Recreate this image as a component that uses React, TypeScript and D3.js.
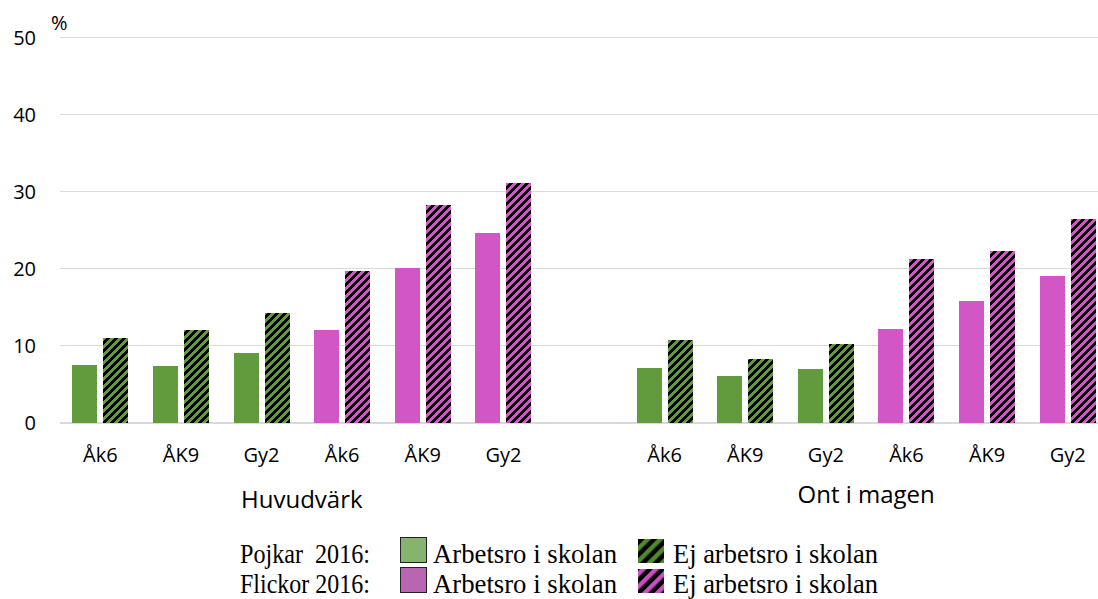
import React from "react";
import * as d3 from "d3";

const groups = ["Huvudvärk", "Ont i magen"];
const grades = ["Åk6", "ÅK9", "Gy2"];
const sexes = ["Pojkar", "Flickor"];
// values per group, sex × grade
const arbetsro = [
  [7.5, 7.3, 9.0, 12.0, 20.1, 24.6],
  [7.1, 6.0, 6.9, 12.2, 15.8, 19.0],
];
const ejArbetsro = [
  [11.0, 12.0, 14.2, 19.7, 28.3, 31.1],
  [10.7, 8.3, 10.2, 21.2, 22.3, 26.4],
];
const yTicks = [0, 10, 20, 30, 40, 50];
const legendRows = ["Pojkar  2016:", "Flickor 2016:"];
const legendItems = ["Arbetsro i skolan", "Ej arbetsro i skolan"];

const W = 1098;
const H = 599;
const GREEN = "#629b3d";
const PINK = "#d256c6";

export default function App() {
  const slots: { key: string; label: string; group: number; idx: number }[] = [];
  const domain: string[] = [];
  groups.forEach((g, gi) => {
    sexes.forEach((s, si) => {
      grades.forEach((gr, ri) => {
        const k = `${gi}-${si}-${ri}`;
        slots.push({ key: k, label: gr, group: gi, idx: si * 3 + ri });
        domain.push(k);
      });
    });
    if (gi === 0) domain.push("gap");
  });

  const x = d3.scaleBand<string>().domain(domain).range([60, 1108]).paddingInner(0).paddingOuter(0);
  const y = d3.scaleLinear().domain([0, 50]).range([422.5, 37.5]);
  const bw = 25;
  const gapBars = 6;

  const pix = (color: string, id: string) => {
    const rects: JSX.Element[] = [];
    for (let py = 0; py < 8; py++)
      for (let px = 0; px < 8; px++)
        if ((px + py) % 8 < 4) rects.push(<rect key={`${px}-${py}`} x={px} y={py} width={1} height={1} fill={color} />);
    return (
      <pattern id={id} patternUnits="userSpaceOnUse" width={8} height={8} x={0} y={0}>
        <rect width={8} height={8} fill="#000" />
        {rects}
      </pattern>
    );
  };

  const smooth = (color: string, id: string) => (
    <pattern id={id} patternUnits="userSpaceOnUse" width={9} height={9} patternTransform="rotate(45)">
      <rect width={9} height={9} fill="#000" />
      <rect x={0} y={0} width={4.5} height={9} fill={color} />
    </pattern>
  );

  const groupCenter = (gi: number) => {
    const gs = slots.filter((s) => s.group === gi);
    const a = x(gs[0].key)! + x.bandwidth() / 2;
    const b = x(gs[gs.length - 1].key)! + x.bandwidth() / 2;
    return (a + b) / 2;
  };

  const sans = "'Open Sans', 'Noto Sans', sans-serif";
  const serif = "'Liberation Serif', 'Times New Roman', serif";

  return (
    <svg width={W} height={H} style={{ position: "absolute", left: 0, top: 0, background: "#fff" }}>
      <defs>
        {pix(GREEN, "hG")}
        {pix(PINK, "hP")}
        {smooth("#4e8a2c", "lG")}
        {smooth("#c94fc0", "lP")}
      </defs>
      {yTicks.map((t) => (
        <g key={t}>
          <line x1={60} x2={W} y1={y(t)} y2={y(t)} stroke="#d9d9d9" strokeWidth={t === 0 ? 2 : 1.5} shapeRendering="crispEdges" />
          <text x={36} y={y(t)} dy="0.36em" textAnchor="end" fontSize={20} fontFamily={sans} fill="#000">
            {t}
          </text>
        </g>
      ))}
      <text x={51} y={30} fontSize={20} fontFamily={sans} fill="#000">%</text>
      {slots.map((s) => {
        const cx = x(s.key)! + x.bandwidth() / 2;
        const color = s.idx < 3 ? GREEN : PINK;
        const hatch = s.idx < 3 ? "url(#hG)" : "url(#hP)";
        const v1 = arbetsro[s.group][s.idx];
        const v2 = ejArbetsro[s.group][s.idx];
        return (
          <g key={s.key} shapeRendering="crispEdges">
            <rect x={cx - gapBars / 2 - bw} y={y(v1)} width={bw} height={y(0) - y(v1)} fill={color} />
            <rect x={cx + gapBars / 2} y={y(v2)} width={bw} height={y(0) - y(v2)} fill={hatch} />
            <text x={cx} y={462} textAnchor="middle" fontSize={20} fontFamily={sans} fill="#000">
              {s.label}
            </text>
          </g>
        );
      })}
      {groups.map((g, gi) => (
        <text key={g} x={groupCenter(gi)} y={gi === 0 ? 508 : 503} textAnchor="middle" fontSize={24} fontFamily={sans} fill="#000">
          {g}
        </text>
      ))}
      {/* legend */}
      {[
        { solid: "#86b46e", hatch: "url(#lG)", base: 563 },
        { solid: "#b866b2", hatch: "url(#lP)", base: 593 },
      ].map((r, i) => (
        <g key={i}>
          <text x={240} y={r.base} fontSize={27} fontFamily={serif} fill="#000" textLength={130} lengthAdjust="spacingAndGlyphs" style={{ whiteSpace: "pre" }}>
            {legendRows[i]}
          </text>
          <rect x={400.5} y={r.base - 25.5} width={26} height={25} fill={r.solid} stroke="#222" strokeWidth={1} />
          <text x={433} y={r.base} fontSize={27} fontFamily={serif} fill="#000" textLength={184} lengthAdjust="spacingAndGlyphs">{legendItems[0]}</text>
          <rect x={638} y={r.base - 24} width={26} height={24} fill={r.hatch} />
          <text x={673} y={r.base} fontSize={27} fontFamily={serif} fill="#000" textLength={205} lengthAdjust="spacingAndGlyphs">{legendItems[1]}</text>
        </g>
      ))}
    </svg>
  );
}
